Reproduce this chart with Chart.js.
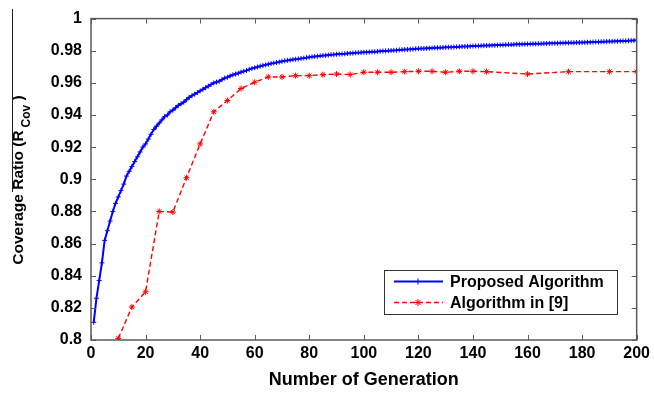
<!DOCTYPE html>
<html>
<head>
<meta charset="utf-8">
<script src="https://cdn.jsdelivr.net/npm/chart.js@4.4.1/dist/chart.umd.min.js"></script>
<style>
  html, body {margin: 0; padding: 0; background: #fff;}
  #wrap {width: 654px; height: 394px; position: relative;}
</style>
</head>
<body>
<div id="wrap"><canvas id="cov-chart"></canvas></div>
<script>
// generations 1..200 for the proposed algorithm
const proposedVals = [
  0.811, 0.826, 0.837, 0.848, 0.862, 0.868, 0.874, 0.880, 0.885, 0.889,
  0.893, 0.897, 0.902, 0.905, 0.908, 0.911, 0.914, 0.917, 0.920, 0.922,
  0.925, 0.928, 0.931, 0.933, 0.935, 0.937, 0.939, 0.940, 0.942, 0.943,
  0.9445, 0.946, 0.947, 0.948, 0.9495, 0.951, 0.952, 0.953, 0.954, 0.955,
  0.956, 0.957, 0.958, 0.959, 0.960, 0.9605, 0.961, 0.962, 0.963, 0.9635,
  0.9643, 0.965, 0.9655, 0.966, 0.9667, 0.9672, 0.9677, 0.9684, 0.969, 0.9694,
  0.9699, 0.9704, 0.9708, 0.9712, 0.9716, 0.972, 0.9723, 0.9727, 0.973, 0.9734,
  0.9737, 0.974, 0.9742, 0.9745, 0.9747, 0.9749, 0.9752, 0.9754, 0.9757, 0.9760,
  0.9762, 0.9764, 0.9766, 0.9768, 0.9770, 0.9771, 0.9773, 0.9775, 0.9776, 0.9778,
  0.9779, 0.9780, 0.9781, 0.9783, 0.9784, 0.9785, 0.9787, 0.9788, 0.9789, 0.9790,
  0.9791, 0.9792, 0.9793, 0.9794, 0.9795, 0.9797, 0.9798, 0.9799, 0.9800, 0.9801,
  0.9802, 0.9803, 0.9805, 0.9806, 0.9807, 0.9808, 0.9809, 0.9810, 0.9812, 0.9813,
  0.9814, 0.9814, 0.9815, 0.9816, 0.9817, 0.9818, 0.9818, 0.9819, 0.9820, 0.9821,
  0.9822, 0.9822, 0.9823, 0.9824, 0.9825, 0.9826, 0.9826, 0.9827, 0.9828, 0.9829,
  0.9830, 0.9830, 0.9831, 0.9832, 0.9832, 0.9833, 0.9834, 0.9834, 0.9835, 0.9836,
  0.9836, 0.9837, 0.9838, 0.9838, 0.9839, 0.9840, 0.9840, 0.9841, 0.9841, 0.9842,
  0.9842, 0.9843, 0.9843, 0.9844, 0.9844, 0.9845, 0.9845, 0.9846, 0.9846, 0.9847,
  0.9847, 0.9848, 0.9848, 0.9849, 0.9849, 0.9850, 0.9850, 0.9851, 0.9851, 0.9852,
  0.9852, 0.9853, 0.9853, 0.9854, 0.9855, 0.9855, 0.9856, 0.9856, 0.9857, 0.9858,
  0.9858, 0.9859, 0.9859, 0.9860, 0.9861, 0.9861, 0.9862, 0.9863, 0.9864, 0.9865
];
const proposedGens = proposedVals.map((v, i) => i + 1);

// algorithm in [9], sampled every few generations
const refGens = [10, 15, 20, 25, 30, 35, 40, 45, 50, 55, 60, 65, 70, 75, 80, 85,
  90, 95, 100, 105, 110, 115, 120, 125, 130, 135, 140, 145, 160, 175, 190, 200];
const refVals = [0.801, 0.8205, 0.830, 0.880, 0.8796, 0.901, 0.922, 0.942, 0.949, 0.9565,
  0.9604, 0.9637, 0.9637, 0.9645, 0.9645, 0.9651, 0.9655, 0.9652, 0.9666, 0.9666,
  0.9666, 0.967, 0.9672, 0.9672, 0.9666, 0.9672, 0.9672, 0.967, 0.9655, 0.967, 0.967, 0.967];

const seriesNames = ['Proposed Algorithm', 'Algorithm in [9]'];
const xTitle = 'Number of Generation';

const FONT = '"Liberation Sans", Arial, sans-serif';
const AXIS = '#5a5a5a';

// box, inner ticks, y title and legend, MATLAB style
const decor = {
  id: 'decor',
  afterDraw(chart) {
    const {ctx, chartArea: a, scales: {x, y}} = chart;
    ctx.save();
    ctx.strokeStyle = AXIS;
    ctx.lineWidth = 1.5;
    ctx.strokeRect(a.left, a.top, a.right - a.left, a.bottom - a.top);
    ctx.lineWidth = 1;
    ctx.beginPath();
    x.ticks.forEach(t => {
      const px = Math.round(x.getPixelForValue(t.value)) + 0.5;
      ctx.moveTo(px, a.bottom); ctx.lineTo(px, a.bottom - 5);
      ctx.moveTo(px, a.top); ctx.lineTo(px, a.top + 5);
    });
    y.ticks.forEach(t => {
      const py = Math.round(y.getPixelForValue(t.value)) + 0.5;
      ctx.moveTo(a.left, py); ctx.lineTo(a.left + 5, py);
      ctx.moveTo(a.right, py); ctx.lineTo(a.right - 5, py);
    });
    ctx.stroke();

    // y axis title with subscript
    ctx.fillStyle = '#000';
    ctx.translate(19, 180);
    ctx.rotate(-Math.PI / 2);
    ctx.textBaseline = 'middle';
    const main = 'Coverage Ratio (R', sub = 'Cov', tail = ' )';
    ctx.font = 'bold 15.5px ' + FONT;
    const w1 = ctx.measureText(main).width, w3 = ctx.measureText(tail).width;
    ctx.font = 'bold 12px ' + FONT;
    const w2 = ctx.measureText(sub).width;
    let sx = -(w1 + w2 + w3 + 3) / 2;
    ctx.font = 'bold 15.5px ' + FONT;
    ctx.fillText(main, sx, 0);
    ctx.font = 'bold 12px ' + FONT;
    ctx.fillText(sub, sx + w1 + 3, 8);
    ctx.font = 'bold 15.5px ' + FONT;
    ctx.fillText(tail, sx + w1 + w2 + 3, 0);
    ctx.setTransform(1, 0, 0, 1, 0, 0);
    ctx.strokeStyle = '#222';
    ctx.beginPath();
    ctx.moveTo(12.5, 9); ctx.lineTo(12.5, 192);
    ctx.stroke();

    // legend box
    ctx.fillStyle = '#fff';
    ctx.fillRect(384, 270, 233, 44);
    ctx.strokeStyle = '#333';
    ctx.strokeRect(384.5, 270.5, 233, 44);
    const rows = [281.5, 302.5];
    chart.data.datasets.forEach((ds, i) => {
      const ly = rows[i];
      ctx.strokeStyle = ds.borderColor;
      ctx.lineWidth = ds.borderWidth;
      ctx.setLineDash(ds.borderDash || []);
      ctx.beginPath(); ctx.moveTo(394, ly); ctx.lineTo(443, ly); ctx.stroke();
      ctx.setLineDash([]);
      ctx.lineWidth = 1;
      Chart.helpers.drawPoint(ctx, {pointStyle: ds.pointStyle, radius: ds.pointRadius + 0.5, borderWidth: 1}, 418, ly);
      ctx.fillStyle = '#000';
      ctx.font = 'bold 16px ' + FONT;
      ctx.textBaseline = 'middle';
      ctx.fillText(ds.label, 450, ly + 1);
    });
    ctx.restore();
  }
};

const ctx = document.getElementById('cov-chart').getContext('2d');
new Chart(ctx, {
  type: 'line',
  data: {
    datasets: [
      {
        label: seriesNames[0],
        data: proposedGens.map((g, i) => ({x: g, y: proposedVals[i]})),
        borderColor: '#0000ff', backgroundColor: '#0000ff',
        borderWidth: 2, pointStyle: 'cross', pointRadius: 2.5, pointBorderWidth: 1,
        tension: 0
      },
      {
        label: seriesNames[1],
        data: refGens.map((g, i) => ({x: g, y: refVals[i]})),
        borderColor: '#ff0000', backgroundColor: '#ff0000',
        borderWidth: 1.4, borderDash: [5, 3], pointStyle: 'star', pointRadius: 3, pointBorderWidth: 1,
        tension: 0
      }
    ]
  },
  options: {
    responsive: true,
    maintainAspectRatio: false,
    animation: false,
    layout: {padding: {left: 0, top: 17, right: 16, bottom: 0}},
    plugins: {legend: {display: false}, tooltip: {enabled: false}},
    scales: {
      x: {
        type: 'linear', min: 0, max: 200,
        afterFit: s => { s.height = 54; },
        grid: {display: false, drawTicks: false},
        border: {display: false},
        ticks: {stepSize: 20, padding: 4, color: '#000', font: {family: FONT, size: 16, weight: 'bold'}},
        title: {display: true, text: xTitle, color: '#000', padding: {top: 0, bottom: 3},
          font: {family: FONT, size: 18, weight: 'bold'}}
      },
      y: {
        min: 0.8, max: 1,
        afterFit: s => { s.width = 91; },
        grid: {display: false, drawTicks: false},
        border: {display: false},
        ticks: {stepSize: 0.02, padding: 9, color: '#000', font: {family: FONT, size: 16, weight: 'bold'},
          callback: v => String(parseFloat(v.toFixed(2)))}
      }
    }
  },
  plugins: [decor]
});
</script>
</body>
</html>
